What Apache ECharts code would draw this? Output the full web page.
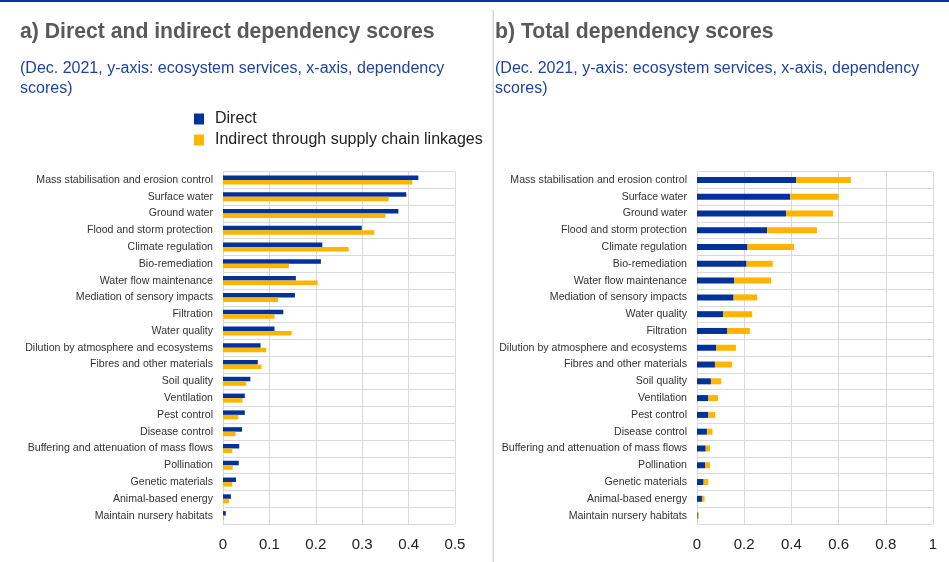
<!DOCTYPE html>
<html>
<head>
<meta charset="utf-8">
<script src="https://cdn.jsdelivr.net/npm/echarts@6/dist/echarts.min.js"></script>
<style>
  html, body { margin: 0; padding: 0; background: #fff; }
  #chart { width: 949px; height: 562px; }
</style>
</head>
<body>
<div id="chart"></div>
<script>
// panel a) categories and values (top to bottom)
const servicesA = [
  'Mass stabilisation and erosion control', 'Surface water', 'Ground water',
  'Flood and storm protection', 'Climate regulation', 'Bio-remediation',
  'Water flow maintenance', 'Mediation of sensory impacts', 'Filtration',
  'Water quality', 'Dilution by atmosphere and ecosystems', 'Fibres and other materials',
  'Soil quality', 'Ventilation', 'Pest control', 'Disease control',
  'Buffering and attenuation of mass flows', 'Pollination', 'Genetic materials',
  'Animal-based energy', 'Maintain nursery habitats'
]
const directA = [0.421, 0.395, 0.378, 0.299, 0.214, 0.211, 0.157, 0.155, 0.130, 0.111, 0.081,
  0.075, 0.059, 0.047, 0.047, 0.041, 0.035, 0.034, 0.028, 0.017, 0.006]
const indirectA = [0.408, 0.357, 0.350, 0.326, 0.271, 0.142, 0.204, 0.119, 0.111, 0.148, 0.093,
  0.083, 0.050, 0.042, 0.033, 0.027, 0.020, 0.021, 0.020, 0.013, 0.002]

// panel b) categories and values (top to bottom)
const servicesB = [
  'Mass stabilisation and erosion control', 'Surface water', 'Ground water',
  'Flood and storm protection', 'Climate regulation', 'Bio-remediation',
  'Water flow maintenance', 'Mediation of sensory impacts', 'Water quality',
  'Filtration', 'Dilution by atmosphere and ecosystems', 'Fibres and other materials',
  'Soil quality', 'Ventilation', 'Pest control', 'Disease control',
  'Buffering and attenuation of mass flows', 'Pollination', 'Genetic materials',
  'Animal-based energy', 'Maintain nursery habitats'
]
const directB = [0.420, 0.394, 0.377, 0.297, 0.214, 0.210, 0.158, 0.155, 0.111, 0.129, 0.082,
  0.076, 0.059, 0.048, 0.048, 0.042, 0.037, 0.034, 0.028, 0.021, 0.003]
const totalB = [0.652, 0.600, 0.577, 0.508, 0.411, 0.321, 0.314, 0.255, 0.234, 0.224, 0.165,
  0.148, 0.103, 0.089, 0.077, 0.065, 0.055, 0.055, 0.048, 0.032, 0.008]
const indirectB = totalB.map((t, i) => +(t - directB[i]).toFixed(3))

const ticksA = ['0', '0.1', '0.2', '0.3', '0.4', '0.5']
const ticksB = ['0', '0.2', '0.4', '0.6', '0.8', '1']

const BLUE = '#003299'
const YELLOW = '#ffb400'
const FONT = '"Liberation Sans", Arial, sans-serif'

const chart = echarts.init(document.getElementById('chart'))

const catAxis = (data, idx) => ({
  type: 'category',
  gridIndex: idx,
  data: data,
  inverse: true,
  axisLine: { show: false },
  axisTick: { show: false },
  splitLine: { show: true, lineStyle: { color: '#d9d9d9', width: 1 } },
  axisLabel: { fontFamily: FONT, fontSize: 10.6, color: '#333', margin: 10 }
})

const valAxis = (max, interval, idx) => ({
  type: 'value',
  gridIndex: idx,
  min: 0,
  max: max,
  interval: interval,
  axisLine: { show: false },
  axisTick: { show: false },
  splitLine: { show: true, lineStyle: { color: '#d9d9d9', width: 1 } },
  axisLabel: {
    fontFamily: FONT, fontSize: 15, color: '#222', margin: 13,
    formatter: v => {
      const labels = idx === 0 ? ticksA : ticksB
      const i = Math.round(v / interval)
      return labels[i] !== undefined ? labels[i] : ''
    }
  }
})

const subtitle = '(Dec. 2021, y-axis: ecosystem services, x-axis, dependency\nscores)'

chart.setOption({
  animation: false,
  textStyle: { fontFamily: FONT },
  title: [
    { text: 'a) Direct and indirect dependency scores', left: 20, top: 22, padding: 0,
      textStyle: { fontFamily: FONT, fontSize: 21.2, fontWeight: 'bold', color: '#595959' } },
    { text: subtitle, left: 20, top: 59, padding: 0,
      textStyle: { fontFamily: FONT, fontSize: 16, fontWeight: 'normal', color: '#1f43a3', lineHeight: 20 } },
    { text: 'b) Total dependency scores', left: 495, top: 22, padding: 0,
      textStyle: { fontFamily: FONT, fontSize: 21.2, fontWeight: 'bold', color: '#595959' } },
    { text: subtitle, left: 495, top: 59, padding: 0,
      textStyle: { fontFamily: FONT, fontSize: 16, fontWeight: 'normal', color: '#1f43a3', lineHeight: 20 } }
  ],
  legend: {
    data: ['Direct', 'Indirect through supply chain linkages'],
    orient: 'vertical',
    left: 194,
    top: 111,
    padding: 0,
    itemWidth: 10,
    itemHeight: 11,
    itemGap: 5,
    icon: 'rect',
    textStyle: { fontFamily: FONT, fontSize: 16, color: '#222', padding: [0, 0, 0, 6] }
  },
  graphic: [
    { type: 'rect', shape: { x: 0, y: 0, width: 949, height: 2 }, style: { fill: BLUE } },
    { type: 'rect', shape: { x: 492.5, y: 10, width: 1.5, height: 552 }, style: { fill: '#d6d6d6' } }
  ],
  grid: [
    { left: 223, right: 494, top: 171.5, bottom: 38 },
    { left: 697, right: 16, top: 171.5, bottom: 38 }
  ],
  xAxis: [valAxis(0.5, 0.1, 0), valAxis(1, 0.2, 1)],
  yAxis: [catAxis(servicesA, 0), catAxis(servicesB, 1)],
  series: [
    { name: 'Direct', type: 'bar', xAxisIndex: 0, yAxisIndex: 0, data: directA,
      barWidth: 4.5, barGap: '0%', itemStyle: { color: BLUE } },
    { name: 'Indirect through supply chain linkages', type: 'bar', xAxisIndex: 0, yAxisIndex: 0,
      data: indirectA, barWidth: 4.5, barGap: '0%', itemStyle: { color: YELLOW } },
    { name: 'Direct', type: 'bar', xAxisIndex: 1, yAxisIndex: 1, data: directB, stack: 'total',
      barWidth: 6, itemStyle: { color: BLUE } },
    { name: 'Indirect through supply chain linkages', type: 'bar', xAxisIndex: 1, yAxisIndex: 1,
      data: indirectB, stack: 'total', barWidth: 6, itemStyle: { color: YELLOW } }
  ]
})

window.addEventListener('resize', () => chart.resize())
</script>
</body>
</html>
